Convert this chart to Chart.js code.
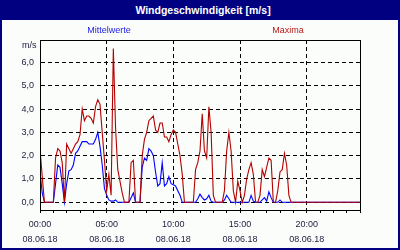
<!DOCTYPE html>
<html><head><meta charset="utf-8">
<script src="https://cdn.jsdelivr.net/npm/chart.js@4/dist/chart.umd.min.js"></script>
<style>
html,body{margin:0;padding:0;background:#fff;}
#wrap{position:relative;width:400px;height:250px;background:#fbfdfb;overflow:hidden;font-family:"Liberation Sans",Arial,sans-serif;}
#c{position:absolute;left:0;top:0;}
#frame{position:absolute;left:0;top:0;width:400px;height:250px;box-sizing:border-box;border:2px solid #000080;pointer-events:none;}
#title{position:absolute;left:0;top:0;width:400px;height:20px;box-sizing:border-box;padding-left:6px;background:#000080;color:#fff;font-weight:bold;font-size:10.5px;line-height:20px;text-align:center;white-space:nowrap;}
.leg{position:absolute;top:24px;font-size:9px;line-height:12px;transform:translateX(-50%);white-space:nowrap;}
#unit{position:absolute;left:22px;top:39px;font-size:9px;line-height:12px;color:#1c1c3c;}
</style></head>
<body><div id="wrap"><canvas id="c" width="400" height="250"></canvas>
<div id="title">Windgeschwindigkeit [m/s]</div>
<div class="leg" style="left:109px;color:#1a1ae8">Mittelwerte</div>
<div class="leg" style="left:288px;color:#b81818">Maxima</div>
<div id="unit">m/s</div>
<div id="frame"></div></div>
<script>
const stepMinutes = 10;
const timeLabels = ['00:00', '05:00', '10:00', '15:00', '20:00'];
const dateLabel = '08.06.18';
const hourTicks = [0,1,2,3,4,5,6,7,8,9,10,11,12,13,14,15,16,17,18,19,20,21,22,23,24];
const yTickValues = [0, 1, 2, 3, 4, 5, 6];

// Mittelwerte (10-minute steps, 00:00 .. 24:00)
const meanValues = [
  1.3,0.4,0,0,0,0,0,0.8,1.6,1.5,0.8,0,
  0.8,1.35,1.4,1.6,2.1,2.2,2.4,2.6,2.6,2.6,2.5,2.5,
  2.5,2.7,3.0,2.4,1.6,0.6,0.3,0.1,0.05,0.05,0.1,0,
  0,0,0,0,0,0.2,0.4,0,0,0,1.5,1.9,
  1.8,2.3,2.2,2.0,1.3,0.7,0.8,1.7,0.7,0.8,1.1,0.8,
  0.75,0.7,0.5,0.3,0,0,0,0,0,0,0,0.15,
  0.35,0.2,0.1,0.15,0.3,0.05,0,0,0,0,0,0.1,
  0.3,0.15,0,0,0,0,0,0,0,0,0,0.3,
  0.05,0,0,0,0.1,0.2,0.05,0.45,0.2,0,0,0,
  0.1,0,0,0,0,0,0,0,0,0,0,0,
  0,0,0,0,0,0,0,0,0,0,0,0,
  0,0,0,0,0,0,0,0,0,0,0,0,
  0
];

// Maxima (10-minute steps, 00:00 .. 24:00)
const maxValues = [
  2.3,1.1,0,0,0,0,0,1.9,2.3,2.2,1.7,0,
  2.5,2.3,2.1,2.3,2.5,2.6,2.9,4.0,3.5,3.7,3.7,3.6,
  3.4,4.1,4.4,4.2,3.0,1.8,0.5,1.2,0.3,6.6,3.2,1.4,
  0.9,0.4,0,0,0,1.7,1.8,0,0,0,2.0,2.7,
  3.0,3.5,3.6,3.7,3.1,3.0,3.4,3.4,2.8,2.8,2.6,2.9,
  3.1,3.0,2.5,2.0,1.2,0,0,0,0,0,1.4,1.7,
  2.2,3.8,2.2,1.9,4.1,3.0,0.3,0,0,0,0,0.5,
  2.2,3.0,2.2,0.5,0,0.9,0.5,0,0.3,1.0,1.4,1.7,
  1.2,0,0,0.3,1.4,1.1,1.5,1.9,1.8,0,0,0.5,
  1.3,1.4,2.1,1.6,0.3,0,0,0,0,0,0,0,
  0,0,0,0,0,0,0,0,0,0,0,0,
  0,0,0,0,0,0,0,0,0,0,0,0,
  0
];

const toPoints = arr => arr.map((v, i) => ({ x: i * stepMinutes / 60, y: v }));
const tickFont = { family: 'Liberation Sans', size: 9, lineHeight: 15 / 9 };
const tickColor = '#1c1c3c';

new Chart(document.getElementById('c'), {
  type: 'line',
  data: {
    datasets: [
      { label: 'Mittelwerte', data: toPoints(meanValues), borderColor: '#0000ff', borderWidth: 1.1, pointRadius: 0, tension: 0, order: 2 },
      { label: 'Maxima', data: toPoints(maxValues), borderColor: '#b40000', borderWidth: 1.1, pointRadius: 0, tension: 0, order: 1 }
    ]
  },
  options: {
    responsive: false,
    animation: false,
    devicePixelRatio: 1,
    layout: { padding: { left: 0, right: 40, top: 40, bottom: 0 } },
    plugins: { legend: { display: false }, title: { display: false }, tooltip: { enabled: false } },
    scales: {
      x: {
        type: 'linear', min: 0, max: 24,
        afterBuildTicks: s => { s.ticks = hourTicks.map(v => ({ value: v })); },
        afterFit: s => { s.height = 40; },
        grid: {
          color: c => (c.tick && c.tick.value % 5 === 0 && c.tick.value > 0 && c.tick.value < 24) ? '#000' : 'rgba(0,0,0,0)',
          lineWidth: 1, drawTicks: true, tickLength: 3, tickColor: '#000', tickWidth: 1
        },
        border: { display: true, color: '#000', dash: [4, 3] },
        ticks: {
          autoSkip: false, maxRotation: 0, minRotation: 0, padding: 4, color: tickColor, font: tickFont,
          callback: v => (v % 5 === 0 && v < 24) ? [timeLabels[v / 5], dateLabel] : ''
        }
      },
      y: {
        min: -0.33, max: 6.96,
        afterBuildTicks: s => { s.ticks = yTickValues.map(v => ({ value: v })); },
        afterFit: s => { s.width = 40; },
        grid: { color: '#000', lineWidth: 1, drawTicks: false },
        border: { display: true, color: '#000', dash: [4, 3] },
        ticks: { padding: 6, color: tickColor, font: tickFont, callback: v => v.toFixed(1).replace('.', ',') }
      }
    }
  },
  plugins: [{
    id: 'frameBox',
    afterDraw(chart) {
      const { ctx, chartArea: a } = chart;
      ctx.save();
      ctx.setLineDash([]);
      ctx.strokeStyle = '#000';
      ctx.lineWidth = 1;
      ctx.strokeRect(Math.round(a.left) + 0.5, Math.round(a.top) + 0.5, Math.round(a.right - a.left), Math.round(a.bottom - a.top));
      ctx.restore();
    }
  }]
});
</script>
</body></html>
